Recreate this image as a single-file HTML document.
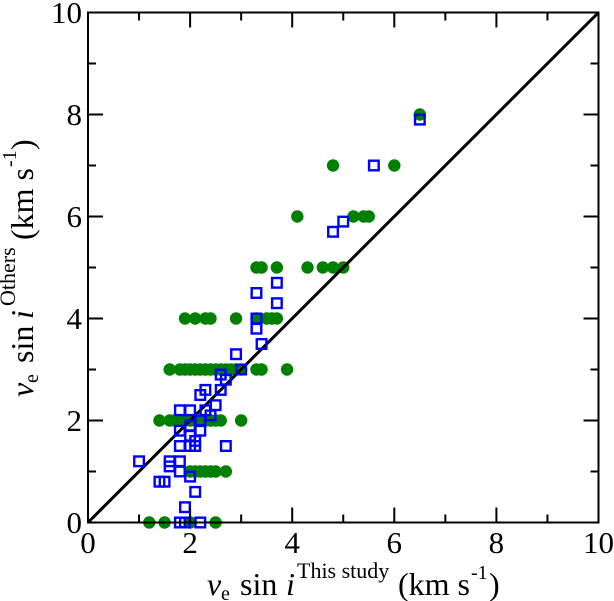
<!DOCTYPE html>
<html>
<head>
<meta charset="utf-8">
<style>
html,body{margin:0;padding:0;background:#fff;}
svg{display:block;}
text{font-family:"Liberation Serif",serif;fill:#000;}
</style>
</head>
<body>
<svg id="chart" width="614" height="601" viewBox="0 0 614 601" xmlns="http://www.w3.org/2000/svg">
<g id="green-layer"></g>
<g id="line-layer"></g>
<g id="blue-layer"></g>
<g id="axes-layer"></g>
<g>
<text x="207" y="595" font-size="32" font-style="italic">v</text>
<text x="221" y="600" font-size="20">e</text>
<text x="240" y="595" font-size="32">sin</text>
<text x="286" y="595" font-size="32" font-style="italic">i</text>
<text x="297" y="578" font-size="22">This study</text>
<text x="398" y="595" font-size="32">(km s</text>
<text x="471" y="579" font-size="20">-1</text>
<text x="489" y="595" font-size="32">)</text>
</g>
<g transform="translate(33,397) rotate(-90)">
<text x="0" y="0" font-size="32" font-style="italic">v</text>
<text x="14" y="5" font-size="20">e</text>
<text x="34" y="0" font-size="32">sin</text>
<text x="78" y="0" font-size="32" font-style="italic">i</text>
<text x="91" y="-18" font-size="22">Others</text>
<text x="157" y="0" font-size="32">(km s</text>
<text x="230" y="-17" font-size="20">-1</text>
<text x="247" y="0" font-size="32">)</text>
</g>
</svg>
<script>
const xTicks = [0, 2, 4, 6, 8, 10];
const yTicks = [0, 2, 4, 6, 8, 10];
const minorTicks = [1, 3, 5, 7, 9];
const identityLine = [0, 10];
const greenX = [1.2,1.5,2.0,2.5, 2.0,2.1,2.2,2.3,2.4,2.5,2.7, 1.4,1.6,1.7,1.8,1.9,2.0,2.1,2.2,2.3,2.4,2.5,2.6,3.0, 1.6,1.8,1.9,2.0,2.1,2.2,2.3,2.4,2.5,2.6,2.7,2.8,2.9,3.0,3.3,3.4,3.9, 1.9,2.1,2.3,2.4,2.9,3.3,3.5,3.6,3.7, 3.3,3.4,3.7,4.3,4.6,4.8,5.0, 4.1,5.2,5.4,5.5, 4.8,6.0, 6.5];
const greenY = [0,0,0,0, 1,1,1,1,1,1,1, 2,2,2,2,2,2,2,2,2,2,2,2,2, 3,3,3,3,3,3,3,3,3,3,3,3,3,3,3,3,3, 4,4,4,4,4,4,4,4,4, 5,5,5,5,5,5,5, 6,6,6,6, 7,7, 8];
const blueX = [1.0,1.6,1.6,1.8,1.8,2.0,1.4,1.5,2.1,1.9,1.8,1.9,2.2,2.7,1.8,2.0,2.1,2.0,2.1,1.8,2.0,2.2,2.2,1.8,2.0,2.4,2.3,2.5,2.2,2.3,2.6,2.6,2.7,3.0,2.9,3.4,3.3,3.3,3.7,3.3,3.7,4.8,5.0,5.6,6.5];
const blueY = [1.2,1.2,1.1,1.2,1.0,0.9,0.8,0.8,0.6,0.3,0,0,0,1.5,1.5,1.5,1.5,1.7,1.6,1.8,1.9,1.8,2.0,2.2,2.2,2.1,2.2,2.3,2.5,2.6,2.6,2.9,2.8,3.0,3.3,3.5,3.8,4.0,4.3,4.5,4.7,5.7,5.9,7.0,7.9];

const NS = 'http://www.w3.org/2000/svg';
const left = 88, right = 598.5, top_ = 12.5, bottom = 522.5;
function xScale(v){ return left + (right - left) * v / 10; }
function yScale(v){ return bottom - (bottom - top_) * v / 10; }
function addLine(parent, x1, y1, x2, y2, w){
  const l = document.createElementNS(NS, 'line');
  l.setAttribute('x1', x1);
  l.setAttribute('y1', y1);
  l.setAttribute('x2', x2);
  l.setAttribute('y2', y2);
  l.setAttribute('stroke', '#000');
  l.setAttribute('stroke-width', w);
  parent.appendChild(l);
  return l;
}
const greenLayer = document.getElementById('green-layer');
greenX.forEach(function(v, i){
  const c = document.createElementNS(NS, 'circle');
  
  
  c.setAttribute('cx', xScale(v));
  c.setAttribute('cy', yScale(greenY[i]));
  c.setAttribute('r', 6.2);
  c.setAttribute('fill', '#008000');
  greenLayer.appendChild(c);
});
const lineLayer = document.getElementById('line-layer');
const diag = addLine(lineLayer, xScale(identityLine[0]), yScale(identityLine[0]), xScale(identityLine[1]), yScale(identityLine[1]), 3);


const blueLayer = document.getElementById('blue-layer');
blueX.forEach(function(v, i){
  const r = document.createElementNS(NS, 'rect');
  
  
  r.setAttribute('x', xScale(v) - 4.8);
  r.setAttribute('y', yScale(blueY[i]) - 4.8);
  r.setAttribute('width', 9.6);
  r.setAttribute('height', 9.6);
  r.setAttribute('fill', 'none');
  r.setAttribute('stroke', '#0000ff');
  r.setAttribute('stroke-width', 2.4);
  blueLayer.appendChild(r);
});
const axes = document.getElementById('axes-layer');
const frame = document.createElementNS(NS, 'rect');


frame.setAttribute('x', left);
frame.setAttribute('y', top_);
frame.setAttribute('width', right - left);
frame.setAttribute('height', bottom - top_);
frame.setAttribute('fill', 'none');
frame.setAttribute('stroke', '#000');
frame.setAttribute('stroke-width', 2);
axes.appendChild(frame);
function addLabel(x, y, s, anchor, name){
  const t = document.createElementNS(NS, 'text');
  
  
  t.setAttribute('x', x);
  t.setAttribute('y', y);
  t.setAttribute('font-size', 31);
  t.setAttribute('text-anchor', anchor);
  t.textContent = s;
  axes.appendChild(t);
}
xTicks.forEach(function(v){
  const x = xScale(v);
  addLine(axes, x, bottom, x, bottom - 15, 2);
  addLine(axes, x, top_, x, top_ + 15, 2);
  addLabel(x, 553, String(v), 'middle', 'x-tick-label');
});
yTicks.forEach(function(v){
  const y = yScale(v);
  addLine(axes, left, y, left + 15, y, 2);
  addLine(axes, right, y, right - 15, y, 2);
  addLabel(82, y + 10.5, String(v), 'end', 'y-tick-label');
});
minorTicks.forEach(function(v){
  addLine(axes, xScale(v), bottom, xScale(v), bottom - 8, 2);
  addLine(axes, xScale(v), top_, xScale(v), top_ + 8, 2);
  addLine(axes, left, yScale(v), left + 8, yScale(v), 2);
  addLine(axes, right, yScale(v), right - 8, yScale(v), 2);
});
</script>
</body>
</html>
